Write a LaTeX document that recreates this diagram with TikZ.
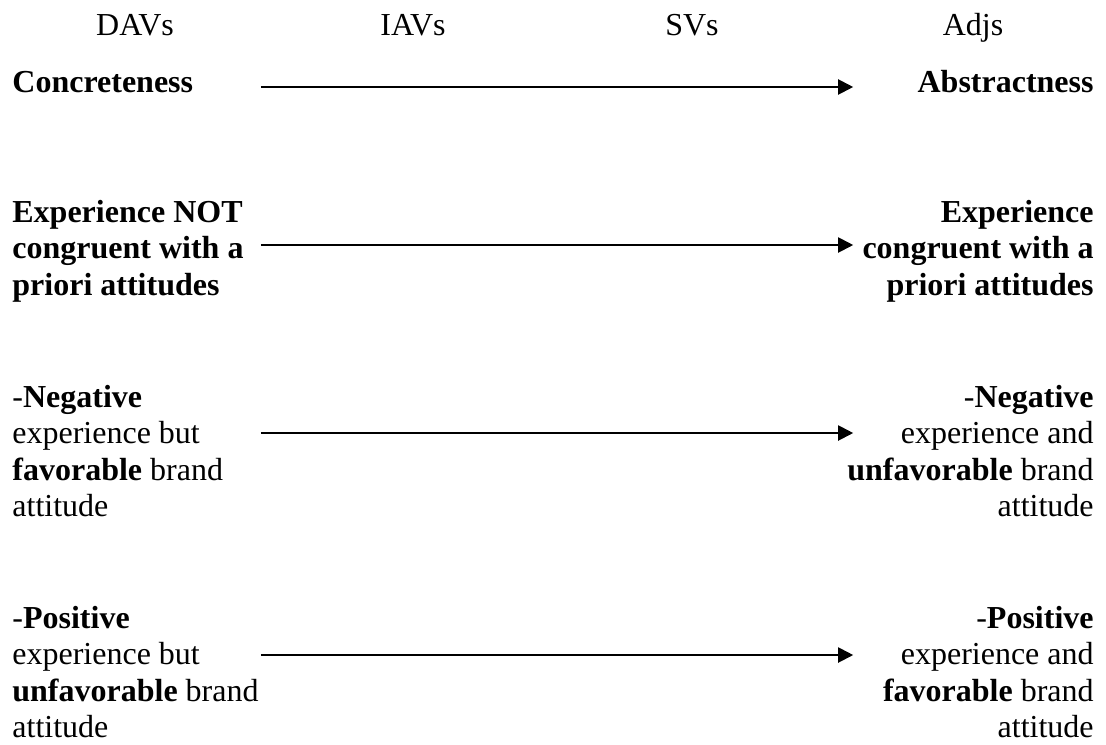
\documentclass[tikz,border=0pt]{standalone}
\usepackage{fontspec}
\setmainfont{Liberation Serif}
\usepackage{tikz}
\usetikzlibrary{arrows.meta,positioning}

\begin{document}
\begin{tikzpicture}[x=0.5pt,y=-0.5pt,
  head/.style={inner sep=0pt,anchor=base,font=\fontsize{16}{18.25}\selectfont},
  lside/.style={inner sep=0pt,text width=132pt,align=left,anchor=base west,
                font=\fontsize{16}{18.25}\selectfont,
                execute at begin node={\spaceskip=0.25em\relax}},
  rside/.style={inner sep=0pt,text width=132pt,align=right,anchor=base east,
                font=\fontsize{16}{18.25}\selectfont,
                execute at begin node={\spaceskip=0.25em\relax}},
  arr/.style={-{Triangle[length=7.5pt,width=7.5pt]},line width=1pt,draw=black,
              shorten <=-8pt,shorten >=-12pt}
]
\useasboundingbox (0,0) rectangle (1106,744);

% column heads
\node[head] (davs) at (135,35) {DAVs};
\node[head] (iavs) at (413,35) {IAVs};
\node[head] (svs) at (692,35) {SVs};
\node[head] (adjs) at (973,35) {Adjs};

\node[lside] (conc) at (12,92) {\textbf{Concreteness}};
\node[rside] (abst) at (1094,92) {\textbf{Abstractness}};

\node[lside] (notcong) at (12,222) {\textbf{Experience NOT}\\\textbf{congruent with a}\\\textbf{priori attitudes}};
\node[rside] (cong) at (1094,222) {\textbf{Experience}\\\textbf{congruent with a}\\\textbf{priori attitudes}};

\node[lside] (negfav) at (12,407) {-\textbf{Negative}\\experience but\\\textbf{favorable} brand\\attitude};
\node[rside] (negunf) at (1094,407) {-\textbf{Negative}\\experience and\\\textbf{unfavorable} brand\\attitude};

\node[lside] (posunf) at (12,628) {-\textbf{Positive}\\experience but\\\textbf{unfavorable} brand\\attitude};
\node[rside] (posfav) at (1094,628) {-\textbf{Positive}\\experience and\\\textbf{favorable} brand\\attitude};

% arrows
\draw[arr] (conc.east |- 0,87) -- (abst.west |- 0,87);
\draw[arr] (notcong.east |- 0,245) -- (cong.west |- 0,245);
\draw[arr] (negfav.east |- 0,433) -- (negunf.west |- 0,433);
\draw[arr] (posunf.east |- 0,655) -- (posfav.west |- 0,655);
\end{tikzpicture}
\end{document}
